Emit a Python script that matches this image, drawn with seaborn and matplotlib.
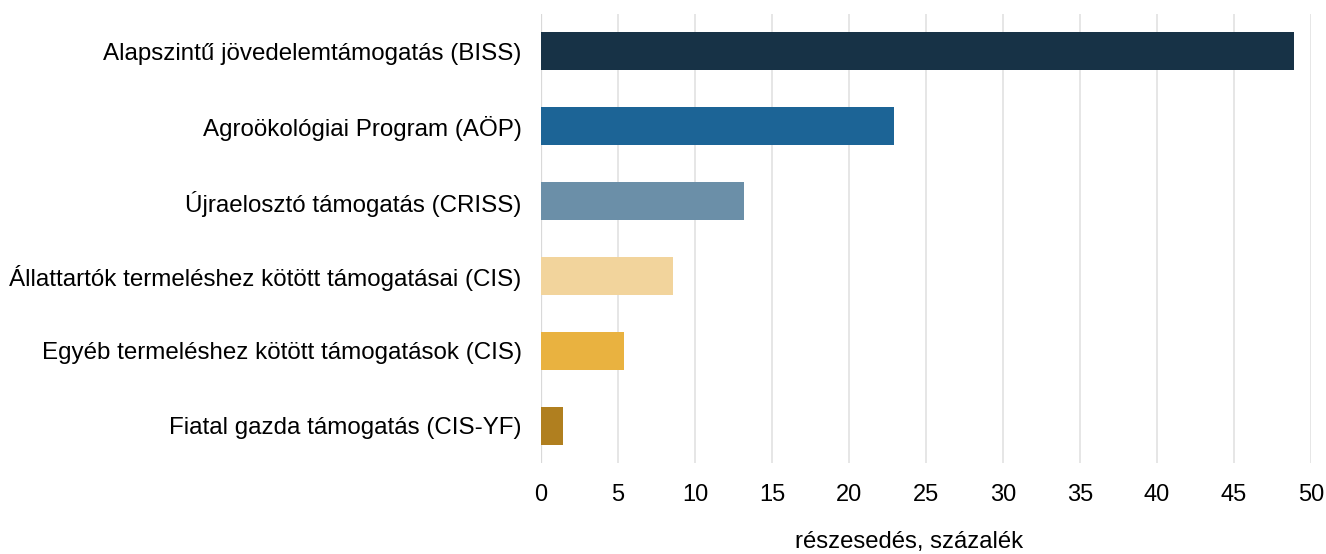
import matplotlib
matplotlib.use("Agg")
import matplotlib.pyplot as plt
import seaborn as sns
import pandas as pd

# data
categories = [
    "Alapszintű jövedelemtámogatás (BISS)",
    "Agroökológiai Program (AÖP)",
    "Újraelosztó támogatás (CRISS)",
    "Állattartók termeléshez kötött támogatásai (CIS)",
    "Egyéb termeléshez kötött támogatások (CIS)",
    "Fiatal gazda támogatás (CIS-YF)",
]
shares = [48.9, 22.9, 13.2, 8.6, 5.4, 1.4]
bar_colors = ["#173246", "#1c6496", "#6b8fa8", "#f2d49c", "#e9b240", "#b07f1f"]
x_ticks = [0, 5, 10, 15, 20, 25, 30, 35, 40, 45, 50]
x_label = "részesedés, százalék"

df = pd.DataFrame({"kategoria": categories, "reszesedes": shares})

sns.set_theme(style="white")
plt.rcParams["font.family"] = ["Liberation Sans", "DejaVu Sans"]

fig = plt.figure(figsize=(13.26, 5.54), dpi=100)
ax = fig.add_axes([541 / 1326, 1 - 463 / 554, 770 / 1326, 449 / 554])

sns.barplot(data=df, x="reszesedes", y="kategoria", hue="kategoria",
            palette=bar_colors, legend=False, width=0.51, orient="h",
            saturation=1, linewidth=0, ax=ax, zorder=3)

ax.set_xlim(0, 50)
ax.set_ylim(5.5, -0.5)
ax.set_xticks(x_ticks)
ax.grid(axis="x", color="#e6e6e6", linewidth=1.4, zorder=0)
ax.axvline(0, color="#d9d9d9", linewidth=1.6, zorder=1)
ax.grid(axis="y", visible=False)
sns.despine(ax=ax, left=True, bottom=True)

ax.tick_params(axis="x", length=0, pad=15, labelsize=17, labelcolor="black")
ax.tick_params(axis="y", length=0, pad=14, labelsize=17.4, labelcolor="black")
ax.set_ylabel("")
ax.set_xlabel(x_label, fontsize=17.2, color="black")
ax.xaxis.set_label_coords((909 - 541) / 770, -0.152)

fig.savefig("out.png", dpi=100)
